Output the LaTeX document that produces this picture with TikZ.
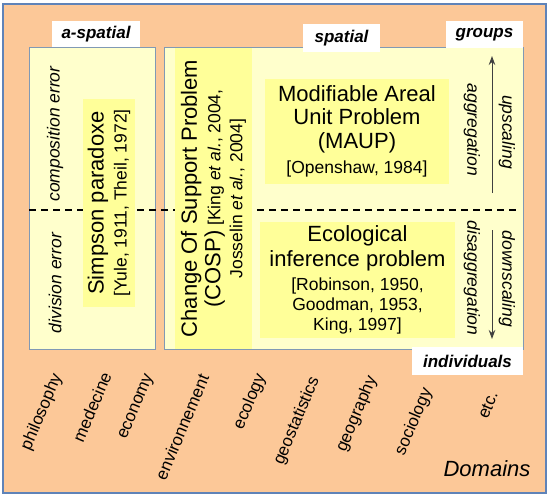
\documentclass[tikz,border=0pt]{standalone}
\usepackage{fontspec}
\setmainfont{Liberation Sans}
\usetikzlibrary{arrows.meta}
\definecolor{bgorange}{HTML}{FCC898}
\definecolor{frameblue}{HTML}{5F83B8}
\definecolor{paleyellow}{HTML}{FFFFCC}
\definecolor{hiyellow}{HTML}{FFFF99}
\definecolor{boxedge}{HTML}{8099B5}
\newcommand{\bigtxt}{\fontsize{22}{24}\selectfont}
\newcommand{\smalltxt}{\fontsize{17.5}{20}\selectfont}
\begin{document}
\begin{tikzpicture}[x=1pt,y=-1pt,
  frame/.style={draw=frameblue, line width=1.5pt, fill=bgorange, inner sep=0pt},
  panel/.style={draw=boxedge, line width=1pt, fill=paleyellow, inner sep=0pt},
  tag/.style={fill=white, inner sep=0pt, font=\fontsize{17}{20}\selectfont\bfseries\itshape},
  hibox/.style={fill=hiyellow, inner sep=0pt, align=center, font=\smalltxt},
  errlabel/.style={font=\smalltxt\itshape, rotate=90},
  scalelabel/.style={font=\smalltxt\itshape, rotate=-90},
  domlabel/.style={font=\fontsize{17}{20}\selectfont, rotate=67},
  scalearrow/.style={draw=black!75, line width=1pt, -{Stealth[length=9pt,width=6.5pt]}},
  divider/.style={line width=2.2pt, dash pattern=on 7pt off 5pt}
]
\fill[white] (0,0) rectangle (550,499);
\useasboundingbox (0,0) rectangle (550,499);

\node[frame, minimum width=543pt, minimum height=489pt] (outer) at (274.5,248.5) {};
\node[panel, minimum width=126pt, minimum height=302pt] (aspbox) at (92,198) {};
\node[panel, minimum width=359pt, minimum height=302pt] (spbox) at (343.5,198) {};

\coordinate (dl) at (29,210);
\coordinate (dr) at (517,210);
\draw[divider] (dl) -- (dr);

\node[hibox, rotate=90, minimum width=208pt, minimum height=52pt] (simpson) at (109,203)
  {{\bigtxt Simpson paradoxe}\\[3pt]{[Yule, 1911, Theil, 1972]}};
\node[hibox, rotate=90, minimum width=301pt, minimum height=77pt] (cosp) at (213.5,198.5)
  {{\bigtxt Change Of Support Problem}\\[2pt]{\bigtxt (COSP)} {[King \textit{et al.}, 2004,}\\[2pt]{Josselin \textit{et al.}, 2004]}};
\node[hibox, minimum width=184pt, minimum height=105pt] (maup) at (357,131.5)
  {{\bigtxt Modifiable Areal}\\[3pt]{\bigtxt Unit Problem}\\[4pt]{\bigtxt (MAUP)}\\[5pt]{[Openshaw, 1984]}};
\node[hibox, minimum width=195pt, minimum height=116pt] (eco) at (357.5,280)
  {{\bigtxt Ecological}\\[4pt]{\bigtxt inference problem}\\[4pt]{[Robinson, 1950,}\\{Goodman, 1953,}\\{King, 1997]}};

\node[tag, minimum width=88pt, minimum height=26pt] (aspatial) at (96,34) {a-spatial};
\node[tag, minimum width=77pt, minimum height=28pt] (spatial) at (341.5,38) {spatial};
\node[tag, minimum width=77pt, minimum height=27pt] (groups) at (484.5,34.5) {groups};
\node[tag, minimum width=111pt, minimum height=28pt] (individuals) at (467.5,361) {individuals};

\node[errlabel] (comp) at (55,134) {composition error};
\node[errlabel] (div) at (55,283) {division error};
\node[scalelabel] (agg) at (472,130) {aggregation};
\node[scalelabel] (ups) at (507,132) {upscaling};
\node[scalelabel] (disagg) at (472,278) {disaggregation};
\node[scalelabel] (downs) at (507,279) {downscaling};

\coordinate (upA) at (492,193);
\coordinate (upB) at (492,56);
\draw[scalearrow] (upA) -- (upB);
\coordinate (dnA) at (492,230);
\coordinate (dnB) at (492,339);
\draw[scalearrow] (dnA) -- (dnB);

\node[domlabel] (d1) at (42,412) {philosophy};
\node[domlabel] (d2) at (92,407) {medecine};
\node[domlabel] (d3) at (137,407) {economy};
\node[domlabel] (d4) at (182,427) {environnement};
\node[domlabel] (d5) at (250,402) {ecology};
\node[domlabel] (d6) at (297,421) {geostatistics};
\node[domlabel] (d7) at (357,414) {geography};
\node[domlabel] (d8) at (414,422) {sociology};
\node[domlabel] (d9) at (488,405) {etc.};
\node[font=\fontsize{22}{24}\selectfont\itshape] (domains) at (487,469) {Domains};
\end{tikzpicture}
\end{document}
